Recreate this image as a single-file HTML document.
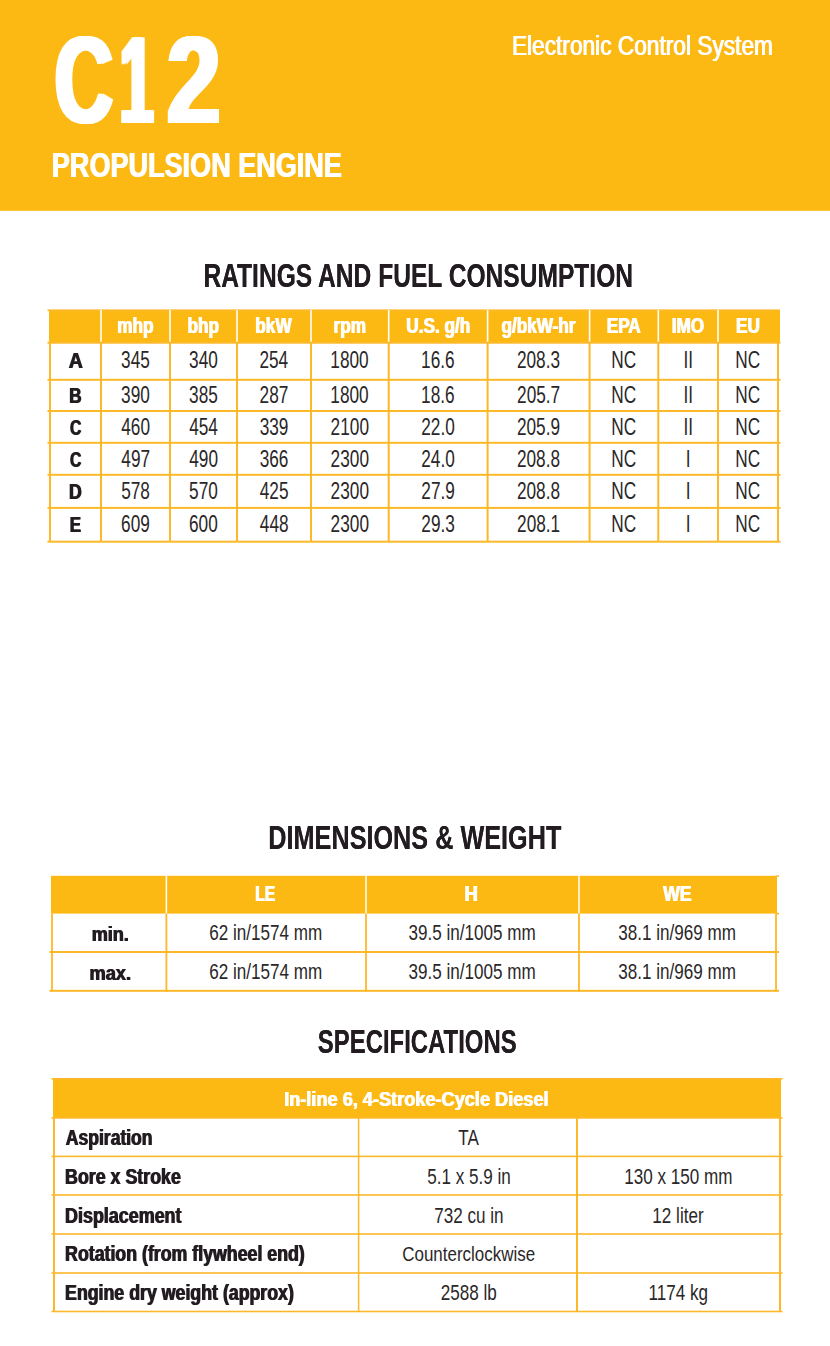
<!DOCTYPE html>
<html><head><meta charset="utf-8"><title>C12 Propulsion Engine</title>
<style>
html,body{margin:0;padding:0;background:#fff;width:830px;height:1346px;overflow:hidden}
svg{position:absolute;left:0;top:0;display:block}
text{font-family:"Liberation Sans",Arial,sans-serif;white-space:pre}
</style></head><body>
<svg width="830" height="1346" viewBox="0 0 830 1346">
<defs><filter id="o0_6" x="-5%" y="-10%" width="115%" height="120%"><feOffset in="SourceGraphic" dx="0.6" dy="0" result="a"/><feMerge><feMergeNode in="a"/><feMergeNode in="SourceGraphic"/></feMerge></filter><filter id="o0_8" x="-5%" y="-10%" width="115%" height="120%"><feOffset in="SourceGraphic" dx="0.8" dy="0" result="a"/><feMerge><feMergeNode in="a"/><feMergeNode in="SourceGraphic"/></feMerge></filter><filter id="o0_9" x="-5%" y="-10%" width="115%" height="120%"><feOffset in="SourceGraphic" dx="0.9" dy="0" result="a"/><feMerge><feMergeNode in="a"/><feMergeNode in="SourceGraphic"/></feMerge></filter><filter id="o1" x="-5%" y="-10%" width="115%" height="120%"><feOffset in="SourceGraphic" dx="1" dy="0" result="a"/><feMerge><feMergeNode in="a"/><feMergeNode in="SourceGraphic"/></feMerge></filter><filter id="o1_0" x="-5%" y="-10%" width="115%" height="120%"><feOffset in="SourceGraphic" dx="1.0" dy="0" result="a"/><feMerge><feMergeNode in="a"/><feMergeNode in="SourceGraphic"/></feMerge></filter><filter id="o1_2" x="-5%" y="-10%" width="115%" height="120%"><feOffset in="SourceGraphic" dx="1.2" dy="0" result="a"/><feMerge><feMergeNode in="a"/><feMergeNode in="SourceGraphic"/></feMerge></filter><filter id="c12f" x="-5%" y="-5%" width="115%" height="110%"><feOffset in="SourceGraphic" dx="1.125" dy="0" result="a1"/><feOffset in="SourceGraphic" dx="2.250" dy="0" result="a2"/><feOffset in="SourceGraphic" dx="3.375" dy="0" result="a3"/><feOffset in="SourceGraphic" dx="4.500" dy="0" result="a4"/><feMerge><feMergeNode in="a1"/><feMergeNode in="a2"/><feMergeNode in="a3"/><feMergeNode in="a4"/><feMergeNode in="SourceGraphic"/></feMerge></filter></defs>
<rect x="0.00" y="0.00" width="830.00" height="210.80" fill="#FDB913"/>
<rect x="49.00" y="309.80" width="731.00" height="32.90" fill="#FDB913"/>
<rect x="47.50" y="309.50" width="732.00" height="1.60" fill="#FDB829"/>
<rect x="100.20" y="309.80" width="1.60" height="32.90" fill="#FFFFFF"/>
<rect x="169.20" y="309.80" width="1.60" height="32.90" fill="#FFFFFF"/>
<rect x="236.20" y="309.80" width="1.60" height="32.90" fill="#FFFFFF"/>
<rect x="310.20" y="309.80" width="1.60" height="32.90" fill="#FFFFFF"/>
<rect x="387.90" y="309.80" width="1.60" height="32.90" fill="#FFFFFF"/>
<rect x="486.80" y="309.80" width="1.60" height="32.90" fill="#FFFFFF"/>
<rect x="588.80" y="309.80" width="1.60" height="32.90" fill="#FFFFFF"/>
<rect x="657.50" y="309.80" width="1.60" height="32.90" fill="#FFFFFF"/>
<rect x="717.20" y="309.80" width="1.60" height="32.90" fill="#FFFFFF"/>
<rect x="47.50" y="341.70" width="733.00" height="2.00" fill="#FDB829"/>
<rect x="47.50" y="378.80" width="733.00" height="2.00" fill="#FDB829"/>
<rect x="47.50" y="410.00" width="733.00" height="2.00" fill="#FDB829"/>
<rect x="47.50" y="441.80" width="733.00" height="2.00" fill="#FDB829"/>
<rect x="47.50" y="473.80" width="733.00" height="2.00" fill="#FDB829"/>
<rect x="47.50" y="506.90" width="733.00" height="2.00" fill="#FDB829"/>
<rect x="47.50" y="540.70" width="733.00" height="2.00" fill="#FDB829"/>
<rect x="49.00" y="342.70" width="2.00" height="199.00" fill="#FDB829"/>
<rect x="100.00" y="342.70" width="2.00" height="199.00" fill="#FDB829"/>
<rect x="169.00" y="342.70" width="2.00" height="199.00" fill="#FDB829"/>
<rect x="236.00" y="342.70" width="2.00" height="199.00" fill="#FDB829"/>
<rect x="310.00" y="342.70" width="2.00" height="199.00" fill="#FDB829"/>
<rect x="387.70" y="342.70" width="2.00" height="199.00" fill="#FDB829"/>
<rect x="486.60" y="342.70" width="2.00" height="199.00" fill="#FDB829"/>
<rect x="588.60" y="342.70" width="2.00" height="199.00" fill="#FDB829"/>
<rect x="657.30" y="342.70" width="2.00" height="199.00" fill="#FDB829"/>
<rect x="717.00" y="342.70" width="2.00" height="199.00" fill="#FDB829"/>
<rect x="777.00" y="342.70" width="2.00" height="199.00" fill="#FDB829"/>
<rect x="51.00" y="875.80" width="726.00" height="37.80" fill="#FDB913"/>
<rect x="165.65" y="875.80" width="1.50" height="37.80" fill="#FFFFFF"/>
<rect x="365.25" y="875.80" width="1.50" height="37.80" fill="#FFFFFF"/>
<rect x="578.25" y="875.80" width="1.50" height="37.80" fill="#FFFFFF"/>
<rect x="49.50" y="951.00" width="729.50" height="2.00" fill="#FDB829"/>
<rect x="49.50" y="989.80" width="729.50" height="2.00" fill="#FDB829"/>
<rect x="51.10" y="913.60" width="1.80" height="78.10" fill="#FDB829"/>
<rect x="165.50" y="913.60" width="1.80" height="78.10" fill="#FDB829"/>
<rect x="365.10" y="913.60" width="1.80" height="78.10" fill="#FDB829"/>
<rect x="578.10" y="913.60" width="1.80" height="78.10" fill="#FDB829"/>
<rect x="775.10" y="913.60" width="1.80" height="78.10" fill="#FDB829"/>
<rect x="776.00" y="875.40" width="3.00" height="1.40" fill="#FDB829"/>
<rect x="776.00" y="912.80" width="3.00" height="1.60" fill="#FDB829"/>
<rect x="53.00" y="1078.30" width="728.00" height="39.60" fill="#FDB913"/>
<rect x="51.50" y="1078.00" width="731.00" height="1.60" fill="#FDB829"/>
<rect x="51.50" y="1117.10" width="731.00" height="1.60" fill="#FDB829"/>
<rect x="51.50" y="1155.60" width="731.00" height="1.60" fill="#FDB829"/>
<rect x="51.50" y="1194.20" width="731.00" height="1.60" fill="#FDB829"/>
<rect x="51.50" y="1233.20" width="731.00" height="1.60" fill="#FDB829"/>
<rect x="51.50" y="1272.20" width="731.00" height="1.60" fill="#FDB829"/>
<rect x="51.50" y="1310.70" width="731.00" height="1.60" fill="#FDB829"/>
<rect x="53.00" y="1117.90" width="2.00" height="193.60" fill="#FDB829"/>
<rect x="357.85" y="1117.90" width="1.50" height="193.60" fill="#FDB829"/>
<rect x="576.00" y="1117.90" width="2.00" height="193.60" fill="#FDB829"/>
<rect x="779.00" y="1117.90" width="2.00" height="193.60" fill="#FDB829"/>
<text y="122.6" font-size="125" font-weight="bold" fill="#FFFFFF" filter="url(#c12f)"><tspan x="52.18" textLength="58.22" lengthAdjust="spacingAndGlyphs">C</tspan><tspan x="117.41" textLength="33.26" lengthAdjust="spacingAndGlyphs">1</tspan><tspan x="164.62" textLength="53.35" lengthAdjust="spacingAndGlyphs">2</tspan></text>
<text transform="translate(51.31 177.40) scale(0.7841 1)" font-size="34.5" font-weight="bold" fill="#FFFFFF" filter="url(#o1_0)">PROPULSION ENGINE</text>
<text transform="translate(511.38 54.60) scale(0.8255 1)" font-size="27.5" font-weight="normal" fill="#FFFFFF" filter="url(#o1_0)">Electronic Control System</text>
<text transform="translate(203.38 286.70) scale(0.7473 1)" font-size="32.9" font-weight="bold" fill="#231F20" filter="url(#o0_6)">RATINGS AND FUEL CONSUMPTION</text>
<text transform="translate(268.33 848.60) scale(0.7671 1)" font-size="32.9" font-weight="bold" fill="#231F20" filter="url(#o0_6)">DIMENSIONS &amp; WEIGHT</text>
<text transform="translate(317.78 1053.40) scale(0.7383 1)" font-size="32.4" font-weight="bold" fill="#231F20" filter="url(#o0_6)">SPECIFICATIONS</text>
<text transform="translate(116.70 332.70) scale(0.8000 1)" font-size="21.5" font-weight="bold" fill="#FFFFFF" filter="url(#o0_8)">mhp</text>
<text transform="translate(187.10 332.70) scale(0.8000 1)" font-size="21.5" font-weight="bold" fill="#FFFFFF" filter="url(#o0_8)">bhp</text>
<text transform="translate(254.85 332.70) scale(0.8000 1)" font-size="21.5" font-weight="bold" fill="#FFFFFF" filter="url(#o0_8)">bkW</text>
<text transform="translate(333.11 332.70) scale(0.8000 1)" font-size="21.5" font-weight="bold" fill="#FFFFFF" filter="url(#o0_8)">rpm</text>
<text transform="translate(405.76 332.70) scale(0.8000 1)" font-size="21.5" font-weight="bold" fill="#FFFFFF" filter="url(#o0_8)">U.S. g/h</text>
<text transform="translate(500.88 332.70) scale(0.8000 1)" font-size="21.5" font-weight="bold" fill="#FFFFFF" filter="url(#o0_8)">g/bkW-hr</text>
<text transform="translate(606.18 332.70) scale(0.8000 1)" font-size="21.5" font-weight="bold" fill="#FFFFFF" filter="url(#o0_8)">EPA</text>
<text transform="translate(671.24 332.70) scale(0.8000 1)" font-size="21.5" font-weight="bold" fill="#FFFFFF" filter="url(#o0_8)">IMO</text>
<text transform="translate(735.56 332.70) scale(0.8000 1)" font-size="21.5" font-weight="bold" fill="#FFFFFF" filter="url(#o0_8)">EU</text>
<text transform="translate(68.16 367.90) scale(0.8884 1)" font-size="22" font-weight="bold" fill="#231F20" filter="url(#o1)">A</text>
<text transform="translate(121.10 368.00) scale(0.7500 1)" font-size="23" font-weight="normal" fill="#2B2728">345</text>
<text transform="translate(189.10 368.00) scale(0.7500 1)" font-size="23" font-weight="normal" fill="#2B2728">340</text>
<text transform="translate(259.42 368.00) scale(0.7500 1)" font-size="23" font-weight="normal" fill="#2B2728">254</text>
<text transform="translate(330.36 368.00) scale(0.7500 1)" font-size="23" font-weight="normal" fill="#2B2728">1800</text>
<text transform="translate(421.07 368.00) scale(0.7500 1)" font-size="23" font-weight="normal" fill="#2B2728">16.6</text>
<text transform="translate(516.95 368.00) scale(0.7500 1)" font-size="23" font-weight="normal" fill="#2B2728">208.3</text>
<text transform="translate(611.19 368.00) scale(0.7500 1)" font-size="23" font-weight="normal" fill="#2B2728">NC</text>
<text transform="translate(683.41 368.00) scale(0.7500 1)" font-size="23" font-weight="normal" fill="#2B2728">II</text>
<text transform="translate(735.24 368.00) scale(0.7500 1)" font-size="23" font-weight="normal" fill="#2B2728">NC</text>
<text transform="translate(68.81 403.10) scale(0.7750 1)" font-size="22" font-weight="bold" fill="#231F20" filter="url(#o1)">B</text>
<text transform="translate(121.10 403.20) scale(0.7500 1)" font-size="23" font-weight="normal" fill="#2B2728">390</text>
<text transform="translate(189.10 403.20) scale(0.7500 1)" font-size="23" font-weight="normal" fill="#2B2728">385</text>
<text transform="translate(259.60 403.20) scale(0.7500 1)" font-size="23" font-weight="normal" fill="#2B2728">287</text>
<text transform="translate(330.36 403.20) scale(0.7500 1)" font-size="23" font-weight="normal" fill="#2B2728">1800</text>
<text transform="translate(421.07 403.20) scale(0.7500 1)" font-size="23" font-weight="normal" fill="#2B2728">18.6</text>
<text transform="translate(517.04 403.20) scale(0.7500 1)" font-size="23" font-weight="normal" fill="#2B2728">205.7</text>
<text transform="translate(611.19 403.20) scale(0.7500 1)" font-size="23" font-weight="normal" fill="#2B2728">NC</text>
<text transform="translate(683.41 403.20) scale(0.7500 1)" font-size="23" font-weight="normal" fill="#2B2728">II</text>
<text transform="translate(735.24 403.20) scale(0.7500 1)" font-size="23" font-weight="normal" fill="#2B2728">NC</text>
<text transform="translate(69.47 435.10) scale(0.7133 1)" font-size="22" font-weight="bold" fill="#231F20" filter="url(#o1)">C</text>
<text transform="translate(121.27 435.20) scale(0.7500 1)" font-size="23" font-weight="normal" fill="#2B2728">460</text>
<text transform="translate(189.18 435.20) scale(0.7500 1)" font-size="23" font-weight="normal" fill="#2B2728">454</text>
<text transform="translate(259.68 435.20) scale(0.7500 1)" font-size="23" font-weight="normal" fill="#2B2728">339</text>
<text transform="translate(330.62 435.20) scale(0.7500 1)" font-size="23" font-weight="normal" fill="#2B2728">2100</text>
<text transform="translate(421.24 435.20) scale(0.7500 1)" font-size="23" font-weight="normal" fill="#2B2728">22.0</text>
<text transform="translate(516.95 435.20) scale(0.7500 1)" font-size="23" font-weight="normal" fill="#2B2728">205.9</text>
<text transform="translate(611.19 435.20) scale(0.7500 1)" font-size="23" font-weight="normal" fill="#2B2728">NC</text>
<text transform="translate(683.41 435.20) scale(0.7500 1)" font-size="23" font-weight="normal" fill="#2B2728">II</text>
<text transform="translate(735.24 435.20) scale(0.7500 1)" font-size="23" font-weight="normal" fill="#2B2728">NC</text>
<text transform="translate(69.47 467.00) scale(0.7133 1)" font-size="22" font-weight="bold" fill="#231F20" filter="url(#o1)">C</text>
<text transform="translate(121.36 467.10) scale(0.7500 1)" font-size="23" font-weight="normal" fill="#2B2728">497</text>
<text transform="translate(189.27 467.10) scale(0.7500 1)" font-size="23" font-weight="normal" fill="#2B2728">490</text>
<text transform="translate(259.68 467.10) scale(0.7500 1)" font-size="23" font-weight="normal" fill="#2B2728">366</text>
<text transform="translate(330.62 467.10) scale(0.7500 1)" font-size="23" font-weight="normal" fill="#2B2728">2300</text>
<text transform="translate(421.24 467.10) scale(0.7500 1)" font-size="23" font-weight="normal" fill="#2B2728">24.0</text>
<text transform="translate(516.95 467.10) scale(0.7500 1)" font-size="23" font-weight="normal" fill="#2B2728">208.8</text>
<text transform="translate(611.19 467.10) scale(0.7500 1)" font-size="23" font-weight="normal" fill="#2B2728">NC</text>
<text transform="translate(685.74 467.10) scale(0.7500 1)" font-size="23" font-weight="normal" fill="#2B2728">I</text>
<text transform="translate(735.24 467.10) scale(0.7500 1)" font-size="23" font-weight="normal" fill="#2B2728">NC</text>
<text transform="translate(68.56 498.90) scale(0.8048 1)" font-size="22" font-weight="bold" fill="#231F20" filter="url(#o1)">D</text>
<text transform="translate(121.18 499.00) scale(0.7500 1)" font-size="23" font-weight="normal" fill="#2B2728">578</text>
<text transform="translate(189.10 499.00) scale(0.7500 1)" font-size="23" font-weight="normal" fill="#2B2728">570</text>
<text transform="translate(259.77 499.00) scale(0.7500 1)" font-size="23" font-weight="normal" fill="#2B2728">425</text>
<text transform="translate(330.62 499.00) scale(0.7500 1)" font-size="23" font-weight="normal" fill="#2B2728">2300</text>
<text transform="translate(421.33 499.00) scale(0.7500 1)" font-size="23" font-weight="normal" fill="#2B2728">27.9</text>
<text transform="translate(516.95 499.00) scale(0.7500 1)" font-size="23" font-weight="normal" fill="#2B2728">208.8</text>
<text transform="translate(611.19 499.00) scale(0.7500 1)" font-size="23" font-weight="normal" fill="#2B2728">NC</text>
<text transform="translate(685.74 499.00) scale(0.7500 1)" font-size="23" font-weight="normal" fill="#2B2728">I</text>
<text transform="translate(735.24 499.00) scale(0.7500 1)" font-size="23" font-weight="normal" fill="#2B2728">NC</text>
<text transform="translate(69.26 531.80) scale(0.7711 1)" font-size="22" font-weight="bold" fill="#231F20" filter="url(#o1)">E</text>
<text transform="translate(121.10 531.90) scale(0.7500 1)" font-size="23" font-weight="normal" fill="#2B2728">609</text>
<text transform="translate(189.01 531.90) scale(0.7500 1)" font-size="23" font-weight="normal" fill="#2B2728">600</text>
<text transform="translate(259.85 531.90) scale(0.7500 1)" font-size="23" font-weight="normal" fill="#2B2728">448</text>
<text transform="translate(330.62 531.90) scale(0.7500 1)" font-size="23" font-weight="normal" fill="#2B2728">2300</text>
<text transform="translate(421.33 531.90) scale(0.7500 1)" font-size="23" font-weight="normal" fill="#2B2728">29.3</text>
<text transform="translate(517.04 531.90) scale(0.7500 1)" font-size="23" font-weight="normal" fill="#2B2728">208.1</text>
<text transform="translate(611.19 531.90) scale(0.7500 1)" font-size="23" font-weight="normal" fill="#2B2728">NC</text>
<text transform="translate(685.74 531.90) scale(0.7500 1)" font-size="23" font-weight="normal" fill="#2B2728">I</text>
<text transform="translate(735.24 531.90) scale(0.7500 1)" font-size="23" font-weight="normal" fill="#2B2728">NC</text>
<text transform="translate(254.81 901.40) scale(0.7110 1)" font-size="22" font-weight="bold" fill="#FFFFFF" filter="url(#o1_2)">LE</text>
<text transform="translate(464.01 901.40) scale(0.8386 1)" font-size="22" font-weight="bold" fill="#FFFFFF" filter="url(#o1_2)">H</text>
<text transform="translate(662.70 901.40) scale(0.8020 1)" font-size="22" font-weight="bold" fill="#FFFFFF" filter="url(#o1_2)">WE</text>
<text transform="translate(91.18 941.00) scale(0.8606 1)" font-size="21" font-weight="bold" fill="#231F20" filter="url(#o0_8)">min.</text>
<text transform="translate(209.27 940.30) scale(0.7600 1)" font-size="22.5" font-weight="normal" fill="#2B2728">62 in/1574 mm</text>
<text transform="translate(408.56 940.30) scale(0.7600 1)" font-size="22.5" font-weight="normal" fill="#2B2728">39.5 in/1005 mm</text>
<text transform="translate(618.26 940.30) scale(0.7600 1)" font-size="22.5" font-weight="normal" fill="#2B2728">38.1 in/969 mm</text>
<text transform="translate(89.02 979.90) scale(0.8678 1)" font-size="21" font-weight="bold" fill="#231F20" filter="url(#o0_8)">max.</text>
<text transform="translate(209.27 979.20) scale(0.7600 1)" font-size="22.5" font-weight="normal" fill="#2B2728">62 in/1574 mm</text>
<text transform="translate(408.56 979.20) scale(0.7600 1)" font-size="22.5" font-weight="normal" fill="#2B2728">39.5 in/1005 mm</text>
<text transform="translate(618.26 979.20) scale(0.7600 1)" font-size="22.5" font-weight="normal" fill="#2B2728">38.1 in/969 mm</text>
<text transform="translate(283.63 1105.50) scale(0.9085 1)" font-size="20" font-weight="bold" fill="#FFFFFF" filter="url(#o0_8)">In-line 6, 4-Stroke-Cycle Diesel</text>
<text transform="translate(65.27 1145.00) scale(0.7985 1)" font-size="22" font-weight="bold" fill="#231F20" filter="url(#o0_9)">Aspiration</text>
<text transform="translate(458.37 1145.00) scale(0.7600 1)" font-size="22.5" font-weight="normal" fill="#2B2728">TA</text>
<text transform="translate(64.55 1184.00) scale(0.8104 1)" font-size="22" font-weight="bold" fill="#231F20" filter="url(#o0_9)">Bore x Stroke</text>
<text transform="translate(427.16 1184.00) scale(0.7600 1)" font-size="22.5" font-weight="normal" fill="#2B2728">5.1 x 5.9 in</text>
<text transform="translate(624.21 1184.00) scale(0.7600 1)" font-size="22.5" font-weight="normal" fill="#2B2728">130 x 150 mm</text>
<text transform="translate(64.55 1223.00) scale(0.8149 1)" font-size="22" font-weight="bold" fill="#231F20" filter="url(#o0_9)">Displacement</text>
<text transform="translate(434.26 1223.00) scale(0.7600 1)" font-size="22.5" font-weight="normal" fill="#2B2728">732 cu in</text>
<text transform="translate(652.34 1223.00) scale(0.7600 1)" font-size="22.5" font-weight="normal" fill="#2B2728">12 liter</text>
<text transform="translate(64.56 1261.20) scale(0.8075 1)" font-size="22" font-weight="bold" fill="#231F20" filter="url(#o0_9)">Rotation (from flywheel end)</text>
<text transform="translate(402.25 1260.60) scale(0.8488 1)" font-size="20" font-weight="normal" fill="#2B2728">Counterclockwise</text>
<text transform="translate(64.56 1300.00) scale(0.8073 1)" font-size="22" font-weight="bold" fill="#231F20" filter="url(#o0_9)">Engine dry weight (approx)</text>
<text transform="translate(440.67 1300.00) scale(0.7600 1)" font-size="22.5" font-weight="normal" fill="#2B2728">2588 lb</text>
<text transform="translate(648.57 1300.00) scale(0.7600 1)" font-size="22.5" font-weight="normal" fill="#2B2728">1174 kg</text>
</svg>
</body></html>
